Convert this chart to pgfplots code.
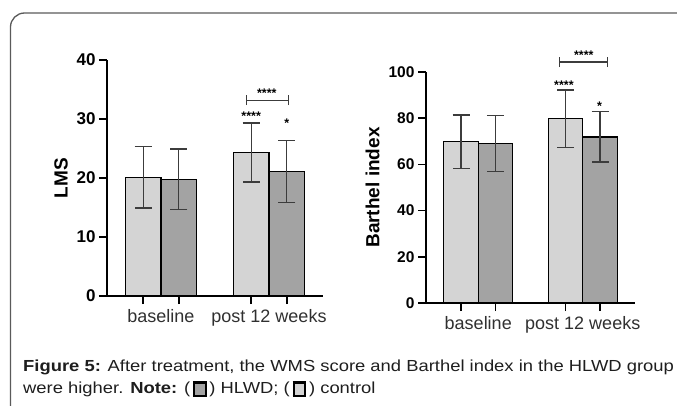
\documentclass[border=0pt]{standalone}
\usepackage{pgfplots}
\pgfplotsset{compat=1.18}
\usepackage{pgfplotstable}
\usepackage{fontspec}
\setmainfont{Liberation Sans}
\newfontfamily\capfont[FakeStretch=1.15]{Liberation Sans}
\definecolor{ctrl}{HTML}{D4D4D4}
\definecolor{hlwd}{HTML}{A3A3A3}
\definecolor{errc}{HTML}{3C3C3C}
\definecolor{framec}{HTML}{5A5A5A}
\definecolor{xlab}{HTML}{303030}
\definecolor{capc}{HTML}{1E1E1E}

% x = bar centre (group 0 = baseline, group 1 = post 12 weeks)
\pgfplotstableread{
x y e
-0.165 20.1 5.2
0.835 24.3 5.0
}\lmsctrl
\pgfplotstableread{
x y e
0.165 19.8 5.1
1.165 21.1 5.2
}\lmshlwd
\pgfplotstableread{
x y e
-0.165 69.8 11.6
0.835 79.8 12.4
}\bictrl
\pgfplotstableread{
x y e
0.165 69.0 12.2
1.165 71.9 10.9
}\bihlwd

\pgfplotsset{
  chart/.style={
    scale only axis, anchor=south west,
    axis lines=left, axis line style={-, line width=1.8pt, black},
    xmin=-0.5, xmax=1.5, ymin=0,
    clip=false,
    tick align=outside,
    major tick style={line width=1.6pt, black},
    major tick length=8pt,
    xtick={-0.165,0.165,0.835,1.165},
    xticklabels={,,,},
    extra x ticks={0,1},
    extra x tick labels={baseline, post 12 weeks},
    extra x tick style={major tick length=0pt, xticklabel style={font=\fontsize{18}{20}\selectfont, text=xlab, yshift=-10pt}},
    ylabel style={font=\fontsize{19}{22}\selectfont\bfseries, anchor=center},
  },
  ctrlbar/.style={ybar, bar width=0.33, bar shift=0, fill=ctrl, draw=black, line width=1.3pt,
    error bars/.cd, y dir=both, y explicit, error bar style={line width=1.3pt, draw=errc},
    error mark options={rotate=90, mark size=8.5pt, line width=1.3pt, draw=errc}},
  hlwdbar/.style={ybar, bar width=0.33, bar shift=0, fill=hlwd, draw=black, line width=1.3pt,
    error bars/.cd, y dir=both, y explicit, error bar style={line width=1.3pt, draw=errc},
    error mark options={rotate=90, mark size=8.5pt, line width=1.3pt, draw=errc}},
}
\tikzset{ast/.style={font=\fontsize{12.5}{12.5}\selectfont\bfseries, anchor=base, inner sep=0pt}}
\newcommand{\sq}[1]{\raisebox{-2pt}{\setlength\fboxrule{2.2pt}\setlength\fboxsep{0pt}\fcolorbox{black}{#1}{\rule{0pt}{11.5pt}\rule{9.5pt}{0pt}}}}

\begin{document}
\begin{tikzpicture}
\path[use as bounding box] (0,0) rectangle (677pt,-406pt);
\draw[framec, line width=1.3pt, rounded corners=14pt] (10.5pt,-406pt) -- (10.5pt,-13pt) -- (677pt,-13pt);

% Left chart: LMS
\begin{axis}[chart, at={(107pt,-296pt)}, width=216pt, height=236pt,
  ymax=40, ytick={0,10,20,30,40},
  yticklabel={\fontsize{17}{18}\selectfont\bfseries\pgfmathprintnumber[assume math mode=true]{\tick}},
  ylabel={LMS}, ylabel style={at={(axis description cs:-0.213,0.5)}}]
\addplot[ctrlbar] table[x=x, y=y, y error=e] {\lmsctrl};
\addplot[hlwdbar] table[x=x, y=y, y error=e] {\lmshlwd};
\node[ast] at (axis cs:0.835,29.8) {****};
\node[ast] at (axis cs:1.165,28.5) {*};
\draw[errc, line width=1.2pt] (axis cs:0.793,33.2) -- (axis cs:1.18,33.2);
\draw[errc, line width=1.2pt] ([yshift=-5pt]axis cs:0.793,33.2) -- ([yshift=5pt]axis cs:0.793,33.2);
\draw[errc, line width=1.2pt] ([yshift=-5pt]axis cs:1.18,33.2) -- ([yshift=5pt]axis cs:1.18,33.2);
\node[ast] at (axis cs:0.98,33.6) {****};
\end{axis}

% Right chart: Barthel index
\begin{axis}[chart, at={(426pt,-303pt)}, width=209pt, height=231pt,
  ymax=100, ytick={0,20,40,60,80,100},
  yticklabel={\fontsize{15.5}{17}\selectfont\bfseries\pgfmathprintnumber[assume math mode=true]{\tick}},
  ylabel={Barthel index}, ylabel style={at={(axis description cs:-0.256,0.5)}}]
\addplot[ctrlbar] table[x=x, y=y, y error=e] {\bictrl};
\addplot[hlwdbar] table[x=x, y=y, y error=e] {\bihlwd};
\node[ast] at (axis cs:0.82,92.4) {****};
\node[ast] at (axis cs:1.16,83.4) {*};
\draw[errc, line width=1.2pt] (axis cs:0.78,104.3) -- (axis cs:1.24,104.3);
\draw[errc, line width=1.2pt] ([yshift=-5pt]axis cs:0.78,104.3) -- ([yshift=5pt]axis cs:0.78,104.3);
\draw[errc, line width=1.2pt] ([yshift=-5pt]axis cs:1.24,104.3) -- ([yshift=5pt]axis cs:1.24,104.3);
\node[ast] at (axis cs:1.01,105.4) {****};
\end{axis}

% Caption
\node[anchor=base west, inner sep=0pt, font=\capfont\fontsize{16}{20}\selectfont, text=capc] at (23pt,-371pt)
  {\textbf{Figure 5:} After treatment, the WMS score and Barthel index in the HLWD group};
\node[anchor=base west, inner sep=0pt, font=\capfont\fontsize{16}{20}\selectfont, text=capc] at (23pt,-393pt)
  {were higher. \textbf{Note:} (\,\sq{hlwd}\,) HLWD; (\,\sq{ctrl}\,) control};
\end{tikzpicture}
\end{document}
